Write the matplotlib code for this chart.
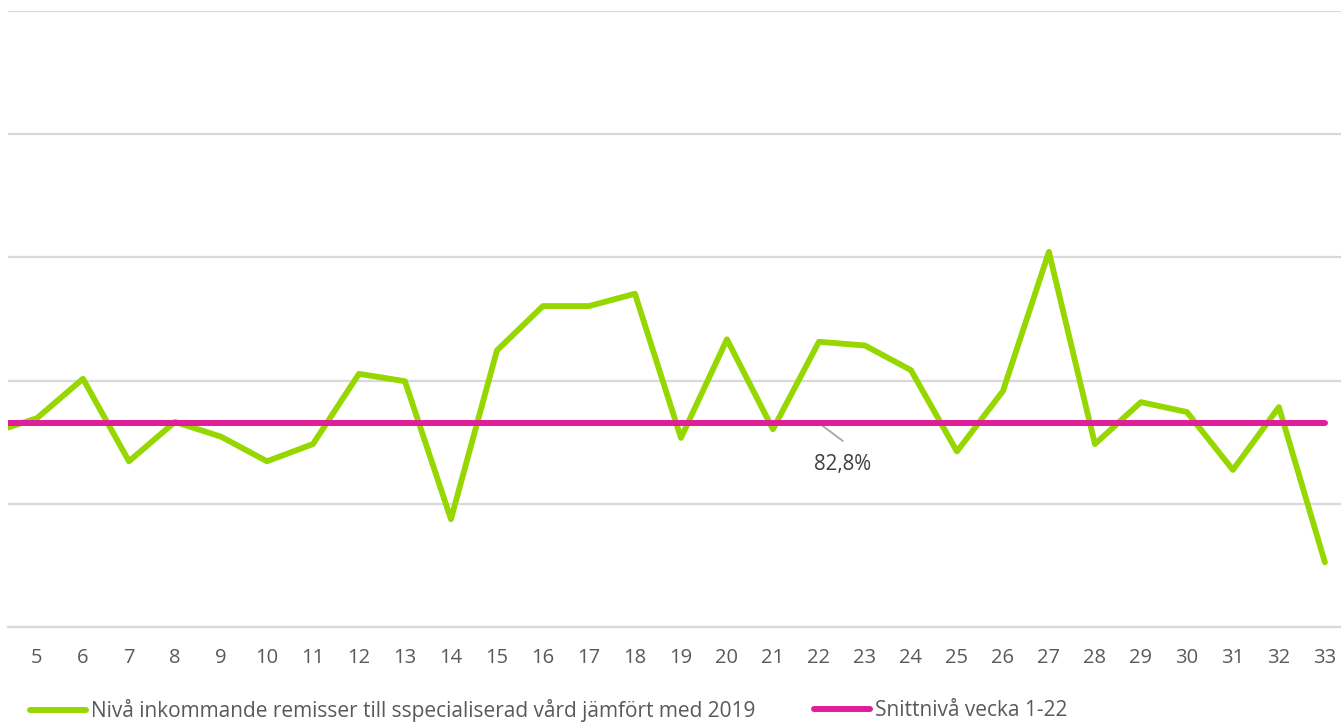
import numpy as np
import matplotlib.pyplot as plt
from matplotlib.lines import Line2D

# veckor (vecka 4 syns bara delvis i vänsterkanten)
weeks = list(range(4, 34))
level = [82.0, 83.2, 86.4, 79.7, 82.9, 81.7, 79.7, 81.1, 86.8, 86.2,
         75.0, 88.7, 92.3, 92.3, 93.3, 81.6, 89.6, 82.3, 89.4, 89.1,
         87.1, 80.5, 85.4, 96.7, 81.1, 84.5, 83.7, 79.0, 84.1, 71.5]
avg_weeks = [1, 33]
avg_level = 82.8
tick_weeks = list(range(5, 34))

green = '#96d700'
magenta = '#e01e9a'
grid_col = '#d9d9d9'
text_col = '#595959'

plt.rcParams['font.family'] = ['Open Sans', 'DejaVu Sans']

fig = plt.figure(figsize=(13.41, 7.25), dpi=100)
ax = fig.add_axes([8 / 1341, 1 - 627 / 725, 1 - 8 / 1341, (627 - 11) / 725])

ax.plot(weeks, level, color=green, lw=4.2, solid_joinstyle='round',
        solid_capstyle='round', zorder=3)
ax.plot(avg_weeks, [avg_level, avg_level], color=magenta, lw=4.3,
        solid_capstyle='round', zorder=4)

ax.set_xlim(4.37, 33.35)
ax.set_ylim(66.25, 116.25)
ax.set_yticks(np.arange(66.25, 116.3, 10))
ax.set_yticklabels([])
ax.set_xticks(tick_weeks)
ax.set_xticklabels([str(w) for w in tick_weeks])
ax.tick_params(axis='both', length=0)
ax.tick_params(axis='x', labelsize=14.5, labelcolor=text_col, pad=15)
ax.grid(axis='y', color=grid_col, lw=1.6, zorder=0)
ax.grid(axis='x', visible=False)
for s in ['top', 'right', 'left']:
    ax.spines[s].set_visible(False)
ax.spines['bottom'].set_color(grid_col)
ax.spines['bottom'].set_linewidth(1.6)

# dataetikett med hänvisningslinje
ax.annotate('', xy=(22, avg_level), xytext=(22.52, 81.35),
            arrowprops=dict(arrowstyle='-', color='#a6a6a6', lw=1.3,
                            shrinkA=0, shrinkB=2))
ax.text(22.52, 79.45, '82,8%', fontsize=14.8, color='#404040',
        ha='center', va='center')

h1 = Line2D([], [], color=green, lw=4.3, solid_capstyle='round')
h2 = Line2D([], [], color=magenta, lw=4.3, solid_capstyle='round')
leg_kw = dict(frameon=False, fontsize=15, handlelength=2.7,
              handletextpad=0.25, borderpad=0, borderaxespad=0,
              loc='center left', labelcolor=text_col)
fig.legend([h1], ['Nivå inkommande remisser till sspecialiserad vård jämfört med 2019'],
           bbox_to_anchor=(30 / 1341, 1 - 711 / 725), **leg_kw)
fig.legend([h2], ['Snittnivå vecka 1-22'],
           bbox_to_anchor=(814 / 1341, 1 - 711 / 725), **leg_kw)

fig.savefig('out.png', dpi=100)
